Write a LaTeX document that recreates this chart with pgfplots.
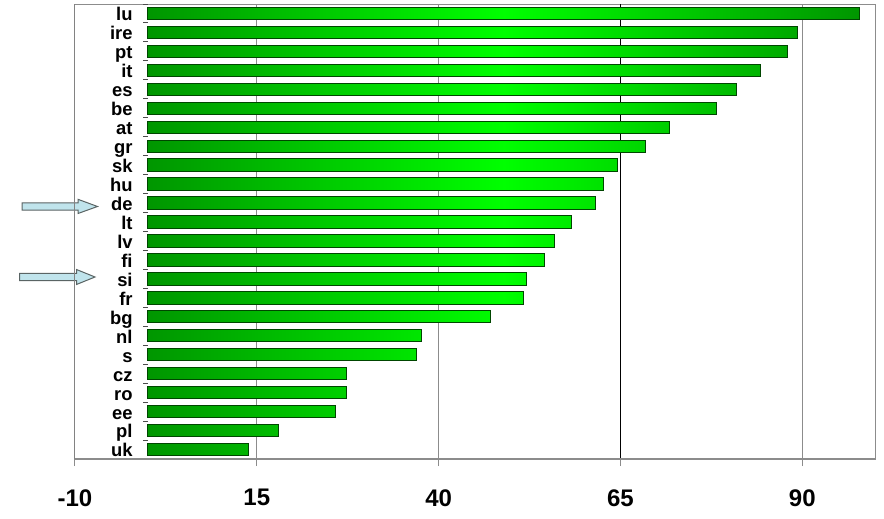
\documentclass[border=0pt]{standalone}
\usepackage{pgfplots}
\pgfplotsset{compat=1.18}
\usepackage{pgfplotstable}
\usepackage{fontspec}
\setmainfont{Liberation Sans}

\definecolor{bardark}{RGB}{0,150,0}
\definecolor{barlight}{RGB}{0,255,0}
\definecolor{baredge}{RGB}{0,70,0}
\definecolor{arrowfill}{RGB}{192,228,236}
\definecolor{arrowedge}{RGB}{90,100,100}
\definecolor{framegray}{RGB}{140,140,140}

% bottom to top
\pgfplotstableread{
name val
uk 13.9
pl 18.0
ee 25.8
ro 27.3
cz 27.3
s 37.0
nl 37.7
bg 47.1
fr 51.6
si 52.1
fi 54.6
lv 55.9
lt 58.3
de 61.6
hu 62.7
sk 64.6
gr 68.5
at 71.7
be 78.2
es 81.0
it 84.3
pt 88.0
ire 89.3
lu 97.9
}\ratetable

\begin{document}
\begin{tikzpicture}
\path[use as bounding box] (0,0) rectangle (442pt,-259.5pt);

% pointer arrows (pixel units, y down)
\begin{scope}[x=0.5pt,y=-0.5pt]
  \draw[fill=arrowfill, draw=arrowedge, line width=0.5pt]
    (22,202.8) -- (78,202.8) -- (78,199.3) -- (97.5,206.5) -- (78,213.5)
    -- (78,210.2) -- (22,210.2) -- cycle;
  \draw[fill=arrowfill, draw=arrowedge, line width=0.5pt]
    (19.5,273.4) -- (76.5,273.4) -- (76.5,269.5) -- (95,277) -- (76.5,284.5)
    -- (76.5,280.6) -- (19.5,280.6) -- cycle;
\end{scope}

\begin{axis}[
    at={(37.5pt,-229.5pt)}, anchor=south west,
    scale only axis,
    width=400pt, height=227.5pt,
    xmin=-10, xmax=100,
    ymin=-0.5, ymax=23.5,
    xbar, bar width=0.65,
    xtick={-10,15,40,90},
    extra x ticks={65},
    extra x tick style={grid style={black, line width=0.5pt}, major tick style={black}},
    xmajorgrids,
    grid style={framegray, line width=0.5pt},
    tick align=outside,
    xtick pos=bottom,
    major tick length=3.5pt,
    x tick style={framegray, line width=0.5pt},
    ytick={0,...,23},
    yticklabels from table={\ratetable}{name},
    y tick style={draw=none},
    axis line style={framegray, line width=0.5pt},
    /pgf/number format/assume math mode=true,
    xticklabel style={font=\fontsize{12}{12}\selectfont\bfseries, inner sep=0pt, yshift=-11.5pt},
    yticklabel style={font=\fontsize{9.2}{9.2}\selectfont\bfseries, inner sep=0pt,
                      text height=7.4pt, text depth=0pt, anchor=east, xshift=32.5pt},
  ]
  \addplot[draw=baredge, line width=0.5pt,
           left color=bardark, right color=bardark, middle color=barlight]
    table[x=val, y expr=\coordindex] {\ratetable};

  % category ticks on the zero line
  \pgfplotsinvokeforeach{-0.5,0.5,...,23.5}{
    \draw[black!70, line width=0.5pt] (axis cs:0,#1) -- ([xshift=-2.5pt]axis cs:0,#1);
  }
  \draw[black!75, line width=0.5pt] (rel axis cs:0,0) -- (rel axis cs:0,1);
  \draw[framegray, line width=1pt] (rel axis cs:0,0) -- (rel axis cs:1,0);
\end{axis}
\end{tikzpicture}
\end{document}
